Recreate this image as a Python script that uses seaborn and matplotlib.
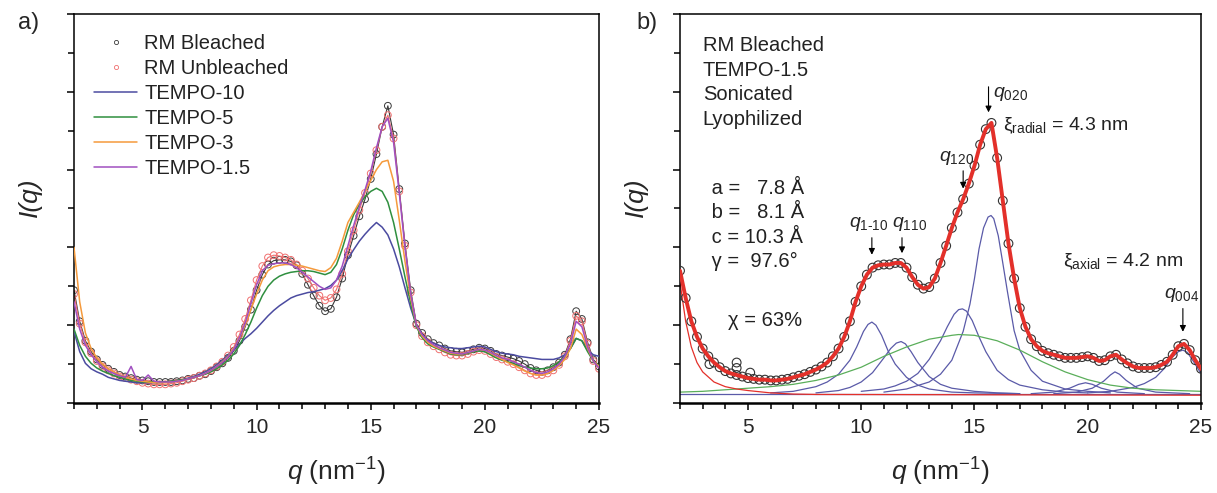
import numpy as np
import pandas as pd
import matplotlib
matplotlib.use("Agg")
import matplotlib.pyplot as plt
import seaborn as sns
from matplotlib.lines import Line2D
from matplotlib.ticker import MultipleLocator, NullFormatter

sns.set_style("ticks")
plt.rcParams['font.family'] = ['Liberation Sans', 'DejaVu Sans']
plt.rcParams['mathtext.fontset'] = 'custom'
plt.rcParams['mathtext.rm'] = 'Liberation Sans'
plt.rcParams['mathtext.it'] = 'Liberation Sans:italic'

# common q grid (nm^-1), 0.25 step
q = np.arange(2.0, 25.001, 0.25)

# ---- panel a : intensities (arb. units) ----
rm_bleached = [1.45, 1.05, 0.80, 0.66, 0.56, 0.49, 0.44, 0.40,
               0.36, 0.34, 0.32, 0.30, 0.29, 0.28, 0.27, 0.27,
               0.27, 0.27, 0.28, 0.29, 0.31, 0.32, 0.35, 0.37,
               0.41, 0.46, 0.51, 0.58, 0.67, 0.80, 0.98, 1.20,
               1.45, 1.65, 1.78, 1.83, 1.84, 1.84, 1.82, 1.77,
               1.66, 1.52, 1.38, 1.25, 1.18, 1.21, 1.36, 1.60,
               1.90, 2.15, 2.40, 2.62, 2.88, 3.20, 3.55, 3.82,
               3.45, 2.75, 2.05, 1.45, 1.02, 0.90, 0.82, 0.77,
               0.74, 0.70, 0.67, 0.66, 0.65, 0.67, 0.69, 0.71,
               0.70, 0.67, 0.63, 0.61, 0.59, 0.57, 0.54, 0.50,
               0.45, 0.42, 0.40, 0.42, 0.46, 0.52, 0.62, 0.82,
               1.18, 1.08, 0.78, 0.56, 0.47]
rm_unbleached = [1.40, 1.02, 0.78, 0.64, 0.54, 0.47, 0.42, 0.38,
                 0.34, 0.32, 0.30, 0.28, 0.26, 0.25, 0.24, 0.24,
                 0.24, 0.25, 0.26, 0.28, 0.30, 0.32, 0.35, 0.38,
                 0.42, 0.47, 0.53, 0.61, 0.72, 0.88, 1.08, 1.32,
                 1.58, 1.76, 1.87, 1.90, 1.89, 1.87, 1.84, 1.78,
                 1.70, 1.60, 1.48, 1.38, 1.32, 1.35, 1.46, 1.66,
                 1.95, 2.22, 2.48, 2.70, 2.95, 3.25, 3.55, 3.70,
                 3.40, 2.72, 2.02, 1.42, 1.00, 0.86, 0.78, 0.73,
                 0.69, 0.65, 0.62, 0.61, 0.61, 0.63, 0.66, 0.68,
                 0.67, 0.63, 0.59, 0.56, 0.53, 0.50, 0.46, 0.42,
                 0.38, 0.36, 0.36, 0.38, 0.42, 0.49, 0.60, 0.80,
                 1.12, 1.05, 0.76, 0.54, 0.44]
tempo_10 = [0.92, 0.66, 0.51, 0.44, 0.40, 0.37, 0.33, 0.31,
            0.29, 0.28, 0.27, 0.26, 0.26, 0.26, 0.26, 0.26,
            0.27, 0.28, 0.29, 0.30, 0.32, 0.34, 0.37, 0.40,
            0.44, 0.49, 0.55, 0.62, 0.68, 0.76, 0.83, 0.89,
            0.96, 1.04, 1.12, 1.19, 1.25, 1.30, 1.35, 1.38,
            1.40, 1.42, 1.43, 1.45, 1.47, 1.51, 1.58, 1.70,
            1.85, 1.97, 2.08, 2.17, 2.25, 2.32, 2.26, 2.16,
            1.98, 1.75, 1.48, 1.22, 1.00, 0.88, 0.81, 0.77,
            0.74, 0.72, 0.71, 0.70, 0.70, 0.71, 0.72, 0.73,
            0.72, 0.69, 0.66, 0.64, 0.63, 0.62, 0.60, 0.59,
            0.58, 0.57, 0.56, 0.56, 0.56, 0.58, 0.62, 0.70,
            0.83, 0.80, 0.68, 0.62, 0.60]
tempo_5 = [0.95, 0.74, 0.60, 0.51, 0.45, 0.41, 0.38, 0.35,
           0.33, 0.31, 0.29, 0.28, 0.27, 0.27, 0.27, 0.27,
           0.27, 0.28, 0.29, 0.30, 0.31, 0.33, 0.35, 0.37,
           0.40, 0.44, 0.49, 0.55, 0.63, 0.74, 0.88, 1.04,
           1.22, 1.38, 1.50, 1.58, 1.63, 1.66, 1.68, 1.69,
           1.70, 1.70, 1.69, 1.67, 1.65, 1.68, 1.78, 1.98,
           2.22, 2.42, 2.55, 2.65, 2.72, 2.76, 2.72, 2.58,
           2.32, 1.98, 1.62, 1.28, 0.98, 0.84, 0.76, 0.72,
           0.69, 0.66, 0.63, 0.62, 0.62, 0.64, 0.66, 0.67,
           0.66, 0.62, 0.58, 0.55, 0.53, 0.51, 0.48, 0.46,
           0.45, 0.44, 0.44, 0.45, 0.48, 0.53, 0.60, 0.70,
           0.83, 0.80, 0.66, 0.54, 0.48]
tempo_3 = [2.00, 1.30, 0.90, 0.70, 0.58, 0.50, 0.44, 0.40,
           0.36, 0.33, 0.31, 0.29, 0.28, 0.27, 0.26, 0.26,
           0.26, 0.27, 0.28, 0.29, 0.31, 0.33, 0.35, 0.38,
           0.42, 0.47, 0.53, 0.60, 0.70, 0.83, 1.00, 1.20,
           1.40, 1.58, 1.70, 1.75, 1.77, 1.78, 1.78, 1.77,
           1.76, 1.74, 1.72, 1.70, 1.69, 1.74, 1.86, 2.08,
           2.32, 2.45, 2.58, 2.72, 2.86, 3.00, 3.10, 3.12,
           2.85, 2.35, 1.82, 1.35, 1.00, 0.86, 0.78, 0.73,
           0.70, 0.67, 0.64, 0.63, 0.63, 0.65, 0.67, 0.69,
           0.68, 0.64, 0.60, 0.56, 0.52, 0.49, 0.45, 0.41,
           0.38, 0.36, 0.36, 0.38, 0.42, 0.48, 0.56, 0.70,
           0.95, 0.88, 0.70, 0.54, 0.47]
tempo_1_5 = [1.30, 0.95, 0.74, 0.62, 0.53, 0.46, 0.41, 0.38,
             0.35, 0.33, 0.47, 0.30, 0.29, 0.36, 0.28, 0.27,
             0.27, 0.27, 0.28, 0.29, 0.31, 0.33, 0.35, 0.38,
             0.42, 0.47, 0.52, 0.59, 0.69, 0.84, 1.03, 1.28,
             1.52, 1.70, 1.77, 1.79, 1.80, 1.80, 1.78, 1.74,
             1.68, 1.62, 1.56, 1.50, 1.46, 1.48, 1.58, 1.76,
             2.02, 2.28, 2.52, 2.74, 2.98, 3.28, 3.55, 3.66,
             3.35, 2.70, 2.00, 1.40, 1.00, 0.88, 0.80, 0.75,
             0.71, 0.68, 0.65, 0.64, 0.63, 0.65, 0.67, 0.69,
             0.68, 0.65, 0.61, 0.58, 0.56, 0.53, 0.50, 0.46,
             0.42, 0.39, 0.38, 0.40, 0.44, 0.50, 0.60, 0.76,
             1.05, 0.98, 0.72, 0.54, 0.45]

# ---- panel b : measured curve and fit components ----
b_data = [1.70, 1.35, 1.05, 0.85, 0.70, 0.60, 0.52, 0.46,
          0.41, 0.38, 0.36, 0.34, 0.32, 0.31, 0.30, 0.30,
          0.29, 0.29, 0.30, 0.31, 0.33, 0.35, 0.37, 0.40,
          0.43, 0.47, 0.52, 0.60, 0.70, 0.85, 1.05, 1.30,
          1.50, 1.65, 1.74, 1.77, 1.78, 1.78, 1.80, 1.80,
          1.74, 1.62, 1.52, 1.47, 1.49, 1.60, 1.80, 2.02,
          2.25, 2.45, 2.62, 2.82, 3.05, 3.32, 3.52, 3.60,
          3.15, 2.60, 2.05, 1.60, 1.22, 0.98, 0.82, 0.73,
          0.67, 0.64, 0.62, 0.60, 0.58, 0.58, 0.58, 0.59,
          0.60, 0.58, 0.54, 0.55, 0.60, 0.62, 0.56, 0.51,
          0.47, 0.45, 0.45, 0.45, 0.46, 0.49, 0.53, 0.62,
          0.73, 0.76, 0.68, 0.55, 0.44]
b_outlier_q = [4.5, 4.5, 5.1, 3.3]
b_outlier_I = [0.52, 0.45, 0.39, 0.50]

baseline_q = [2, 25]
baseline_I = [0.11, 0.11]
bg_q = [2.0, 2.25, 2.5, 2.75, 3.0, 3.5, 4.0, 4.5, 5.0, 6.0, 7.0, 8.0, 25.0]
bg_I = [1.55, 1.05, 0.72, 0.52, 0.40, 0.27, 0.21, 0.18, 0.16, 0.13, 0.115, 0.11, 0.10]
amorph_q = [2, 3, 4, 5, 6, 7, 8, 9, 10, 11, 12, 13, 14, 14.3, 15, 16, 17, 18, 19, 20, 21, 22, 23, 24, 25]
amorph_I = [0.14, 0.15, 0.17, 0.19, 0.21, 0.24, 0.29, 0.36, 0.46, 0.60, 0.72, 0.82, 0.87, 0.88,
            0.87, 0.80, 0.68, 0.53, 0.40, 0.30, 0.23, 0.19, 0.17, 0.16, 0.15]

peak_1m10_q = [6, 7, 8, 8.5, 9, 9.5, 9.8, 10.1, 10.3, 10.47, 10.65, 10.9, 11.2, 11.5, 12, 12.5, 13, 14, 15, 17]
peak_1m10_I = [0.13, 0.15, 0.21, 0.27, 0.37, 0.55, 0.72, 0.92, 1.01, 1.04, 1.00, 0.87, 0.66, 0.50, 0.33, 0.23, 0.18, 0.14, 0.13, 0.12]
peak_110_q = [8, 9, 9.5, 10, 10.5, 11, 11.3, 11.55, 11.76, 11.95, 12.2, 12.5, 13, 13.5, 14, 15, 16, 17]
peak_110_I = [0.13, 0.16, 0.20, 0.27, 0.39, 0.58, 0.70, 0.77, 0.79, 0.76, 0.66, 0.52, 0.34, 0.24, 0.19, 0.15, 0.13, 0.12]
peak_120_q = [10, 11, 11.5, 12, 12.5, 13, 13.5, 13.8, 14.1, 14.3, 14.47, 14.65, 14.9, 15.2, 15.5, 16, 16.5, 17, 18, 19, 20]
peak_120_I = [0.15, 0.18, 0.22, 0.28, 0.38, 0.56, 0.80, 0.98, 1.14, 1.20, 1.21, 1.18, 1.06, 0.85, 0.66, 0.42, 0.30, 0.23, 0.17, 0.14, 0.13]
peak_020_q = [11, 12, 13, 13.5, 14, 14.5, 14.8, 15.0, 15.2, 15.4, 15.6, 15.73, 15.85, 16.05, 16.25, 16.45,
              16.75, 17, 17.5, 18, 19, 20, 21]
peak_020_I = [0.14, 0.18, 0.27, 0.37, 0.55, 0.92, 1.27, 1.60, 1.98, 2.25, 2.39, 2.41, 2.37, 2.15, 1.80, 1.44,
              0.93, 0.68, 0.42, 0.28, 0.18, 0.15, 0.13]
peak_199_q = [17.5, 18.5, 19.2, 19.6, 19.9, 20.2, 20.6, 21.3, 22.5]
peak_199_I = [0.12, 0.14, 0.19, 0.24, 0.26, 0.24, 0.19, 0.14, 0.12]
peak_212_q = [18.5, 19.5, 20.2, 20.7, 21.0, 21.2, 21.4, 21.7, 22.2, 23, 24.5]
peak_212_I = [0.12, 0.14, 0.19, 0.28, 0.36, 0.40, 0.37, 0.29, 0.19, 0.14, 0.12]
peak_004_q = [20, 21, 22, 22.5, 23, 23.4, 23.7, 24.0, 24.2, 24.4, 24.7, 25]
peak_004_I = [0.13, 0.15, 0.20, 0.25, 0.33, 0.45, 0.58, 0.66, 0.68, 0.65, 0.52, 0.38]

lattice_text = [" a =   7.8 Å", " b =   8.1 Å", " c = 10.3 Å", " γ =  97.6°"]
sample_text = ["RM Bleached", "TEMPO-1.5", "Sonicated", "Lyophilized"]

c_black = "#3a3a3a"
c_pink = "#f07070"
c_blue = "#4b4ba0"
c_green = "#2f8f3f"
c_orange = "#f59a3c"
c_purple = "#a04fc0"
c_red = "#e3302a"
c_comp = "#5a5aa8"
c_amorph = "#5aae5a"
txt = "#222222"

fig = plt.figure(figsize=(12.17, 4.93), dpi=100)
ax1 = fig.add_axes([74 / 1217, 90 / 493, 525 / 1217, 389 / 493])
ax2 = fig.add_axes([680 / 1217, 90 / 493, 521 / 1217, 389 / 493])

# panel a
for y, col in [(rm_bleached, c_black), (rm_unbleached, c_pink)]:
    sns.lineplot(x=q, y=y, ax=ax1, color=col, lw=0.8, estimator=None, zorder=2)
    sns.scatterplot(x=q, y=y, ax=ax1, marker="o", s=24, facecolor="none",
                    edgecolor=col, linewidth=0.7, zorder=2)
for y, col in [(tempo_10, c_blue), (tempo_5, c_green), (tempo_3, c_orange), (tempo_1_5, c_purple)]:
    sns.lineplot(x=q, y=y, ax=ax1, color=col, lw=1.1, estimator=None, zorder=3)

handles = [Line2D([], [], marker="o", ls="", mfc="none", mec=c_black, ms=3, mew=0.6),
           Line2D([], [], marker="o", ls="", mfc="none", mec=c_pink, ms=3, mew=0.6),
           Line2D([], [], color=c_blue, lw=1.1),
           Line2D([], [], color=c_green, lw=1.1),
           Line2D([], [], color=c_orange, lw=1.1),
           Line2D([], [], color=c_purple, lw=1.1)]
labels = ["RM Bleached", "RM Unbleached", "TEMPO-10", "TEMPO-5", "TEMPO-3", "TEMPO-1.5"]
leg = ax1.legend(handles, labels, loc="upper left", frameon=False, fontsize=14.5,
                 handlelength=2.15, handletextpad=0.35, labelspacing=0.3,
                 borderaxespad=0.55, borderpad=0.45)
for t in leg.get_texts():
    t.set_color(txt)

# panel b
for qq, yy in [(peak_1m10_q, peak_1m10_I), (peak_110_q, peak_110_I), (peak_120_q, peak_120_I),
               (peak_020_q, peak_020_I), (peak_199_q, peak_199_I), (peak_212_q, peak_212_I),
               (peak_004_q, peak_004_I), (baseline_q, baseline_I)]:
    sns.lineplot(x=qq, y=yy, ax=ax2, color=c_comp, lw=0.9, estimator=None, zorder=2)
sns.lineplot(x=amorph_q, y=amorph_I, ax=ax2, color=c_amorph, lw=0.9, estimator=None, zorder=2)
sns.lineplot(x=bg_q, y=bg_I, ax=ax2, color=c_red, lw=0.9, estimator=None, zorder=2)
sns.scatterplot(x=q, y=b_data, ax=ax2, marker="o", s=40, facecolor="none",
                edgecolor="#333333", linewidth=0.8, zorder=3)
sns.scatterplot(x=b_outlier_q, y=b_outlier_I, ax=ax2, marker="o", s=40, facecolor="none",
                edgecolor="#333333", linewidth=0.8, zorder=3)
sns.lineplot(x=q, y=b_data, ax=ax2, color=c_red, lw=2.8, estimator=None, zorder=4)

for i, s in enumerate(sample_text):
    ax2.text(3.0, 4.60 - 0.32 * i, s, fontsize=14.5, va="center", color=txt)
for i, s in enumerate(lattice_text):
    ax2.text(3.15, 2.76 - 0.315 * i, s, fontsize=14.5, va="center", color=txt)
ax2.text(4.1, 1.06, "χ = 63%", fontsize=14.5, va="center", color=txt)

arrow = dict(arrowstyle="-|>", color="black", lw=0.8, mutation_scale=9)
ax2.annotate("", xy=(10.47, 1.87), xytext=(10.47, 2.16), arrowprops=arrow)
ax2.annotate("", xy=(11.8, 1.89), xytext=(11.8, 2.16), arrowprops=arrow)
ax2.text(11.2, 2.30, r"$q_{\mathrm{1\text{-}10}}$", fontsize=14, ha="right", va="center")
ax2.text(11.35, 2.30, r"$q_{\mathrm{110}}$", fontsize=14, ha="left", va="center")
ax2.annotate("", xy=(14.5, 2.72), xytext=(14.5, 3.02), arrowprops=arrow)
ax2.text(14.2, 3.15, r"$q_{\mathrm{120}}$", fontsize=14, ha="center", va="center")
ax2.annotate("", xy=(15.62, 3.70), xytext=(15.62, 4.10), arrowprops=arrow)
ax2.text(15.8, 3.97, r"$q_{\mathrm{020}}$", fontsize=14, ha="left", va="center")
ax2.text(16.25, 3.56, r"ξ$_{\mathrm{radial}}$ = 4.3 nm", fontsize=14, ha="left", va="center", color=txt)
ax2.text(18.9, 1.81, r"ξ$_{\mathrm{axial}}$ = 4.2 nm", fontsize=14, ha="left", va="center", color=txt)
ax2.annotate("", xy=(24.2, 0.88), xytext=(24.2, 1.25), arrowprops=arrow)
ax2.text(24.15, 1.39, r"$q_{\mathrm{004}}$", fontsize=14, ha="center", va="center")

for ax, ylx in ((ax1, -0.061), (ax2, -0.062)):
    ax.set_xlim(2, 25)
    ax.set_ylim(0, 5)
    ax.xaxis.set_major_locator(MultipleLocator(5))
    ax.xaxis.set_minor_locator(MultipleLocator(1))
    ax.yaxis.set_major_locator(MultipleLocator(1))
    ax.yaxis.set_minor_locator(MultipleLocator(0.5))
    ax.yaxis.set_major_formatter(NullFormatter())
    for sp in ax.spines.values():
        sp.set_visible(True)
        sp.set_linewidth(1.1)
        sp.set_color("black")
    ax.spines["bottom"].set_linewidth(1.8)
    ax.tick_params(axis="both", which="major", direction="out", length=5, width=1.1, color="black")
    ax.tick_params(axis="both", which="minor", direction="out", length=4, width=1.1, color="black")
    ax.tick_params(axis="x", labelsize=15, pad=6)
    ax.set_xlabel(r"$q$ (nm$^{-1}$)", fontsize=19, labelpad=13)
    ax.set_ylabel("I(q)", fontsize=19, fontstyle="italic")
    ax.yaxis.set_label_coords(ylx, 0.53)

fig.text(0.015, 0.942, "a)", fontsize=17)
fig.text(0.523, 0.942, "b)", fontsize=17)

fig.savefig("out.png", dpi=100)
